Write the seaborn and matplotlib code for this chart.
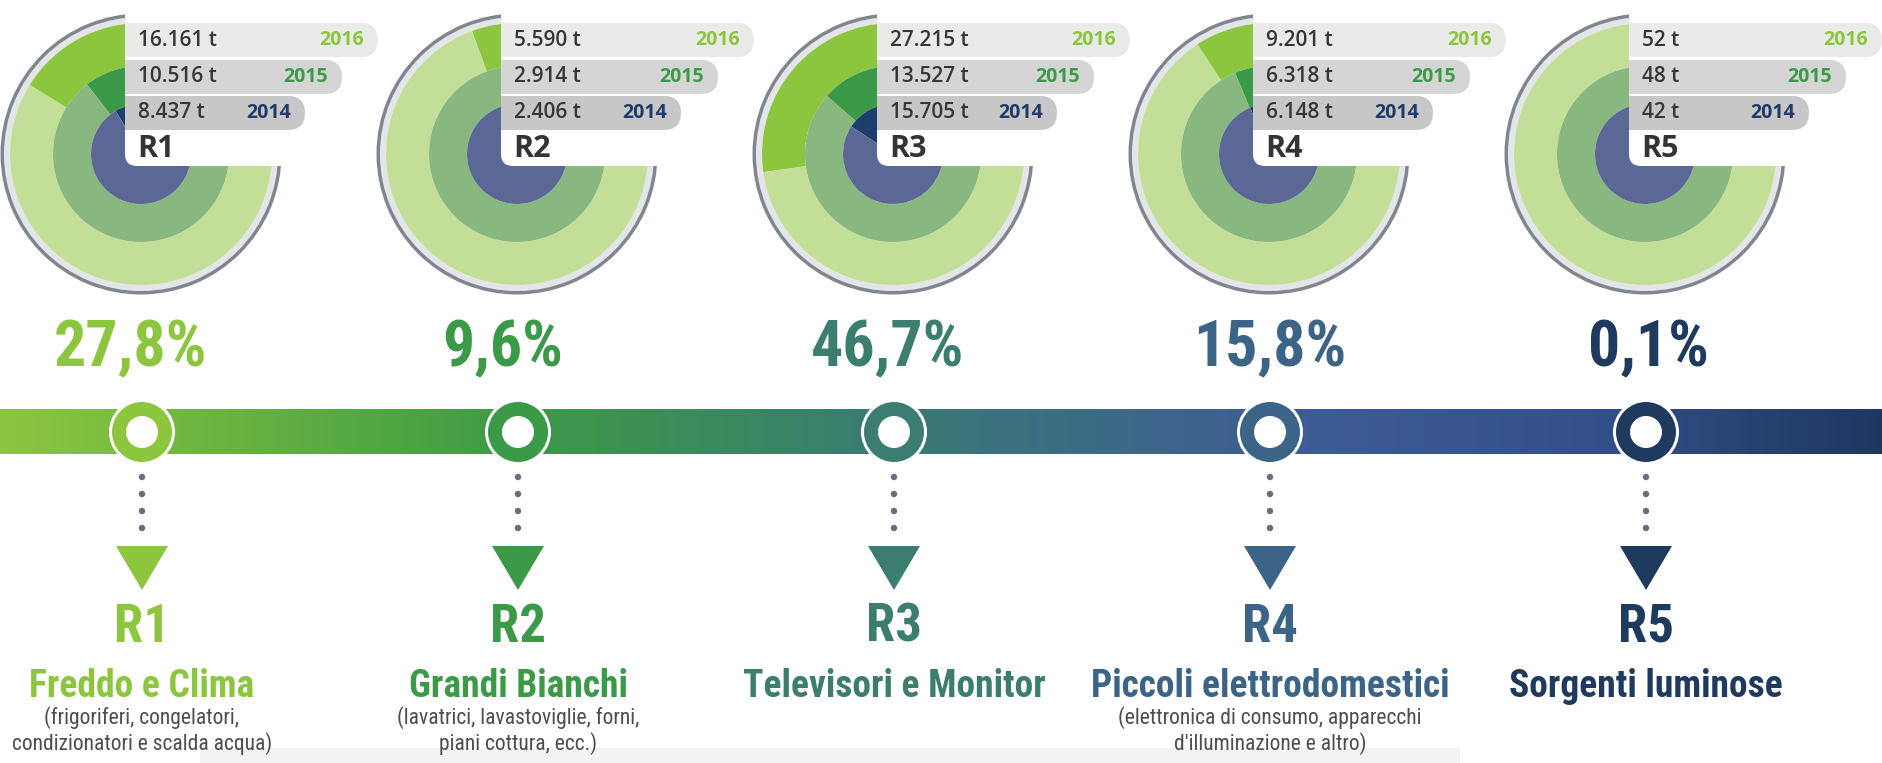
import numpy as np
import matplotlib
matplotlib.use("Agg")
import matplotlib.pyplot as plt
import seaborn as sns
from matplotlib.patches import Circle, Rectangle, Polygon, FancyBboxPatch
from matplotlib.colors import LinearSegmentedColormap

# data (tonnes per year, share of 2016 total)
regions = ["R1", "R2", "R3", "R4", "R5"]
tons_2016 = [16161, 5590, 27215, 9201, 52]
tons_2015 = [10516, 2914, 13527, 6318, 48]
tons_2014 = [8437, 2406, 15705, 6148, 42]
share_2016 = [27.8, 9.6, 46.7, 15.8, 0.1]
years = ["2016", "2015", "2014"]
names = ["Freddo e Clima", "Grandi Bianchi", "Televisori e Monitor",
         "Piccoli elettrodomestici", "Sorgenti luminose"]
notes = [["(frigoriferi, congelatori,", "condizionatori e scalda acqua)"],
         ["(lavatrici, lavastoviglie, forni,", "piani cottura, ecc.)"],
         [],
         ["(elettronica di consumo, apparecchi", "d'illuminazione e altro)"],
         []]
FULL_TURN = 100000  # tonnes that would fill a whole circle

W, H = 1883, 763
sns.set_theme(style="white")
plt.rcParams["font.family"] = ["Open Sans", "DejaVu Sans"]
COND = ["Liberation Sans Narrow", "Roboto Condensed", "Roboto", "DejaVu Sans"]

region_colors = ["#8cc63f", "#3a9a47", "#3b7d6e", "#3b6487", "#1f3a5f"]
bright = ["#8cc63f", "#3a9a47", "#1d3e6c"]
pale = ["#c3df97", "#88b77f", "#5b6794"]
year_colors = ["#8cc63f", "#3a9a47", "#1f3a6a"]
pill_colors = ["#e9ebe9", "#d5d5d5", "#c7c7c7"]
pill_w = [253, 217, 180]
pill_top = [23, 60, 96]
PILL_H = 34
rings = [(88, 131), (50, 88), (0, 50)]
pct_dx = [-12, -15, -6, 0, 2]

def fmt_t(v):
    return f"{v:,}".replace(",", ".") + " t"

fig = plt.figure(figsize=(W / 100, H / 100), dpi=100)
bg = fig.add_axes([0, 0, 1, 1], zorder=0)

xs = 125 + 376 * np.arange(len(regions))   # left edge of each label stack
mx = xs + 17                                # timeline marker positions

# timeline bar with gradient
cmap = LinearSegmentedColormap.from_list(
    "timeline", [(0, "#8cc63f"), (0.27, "#3d9b45"), (0.47, "#3a7b74"),
                 (0.68, "#3f5d95"), (0.85, "#33508a"), (1, "#1f3760")])
bg.imshow(np.linspace(0, 1, 600)[None, :], cmap=cmap, extent=[0, W, 454, 409],
          aspect="auto", zorder=1)
bg.add_patch(Rectangle((200, 748), 1260, 15, fc="#f3f3f3", ec="none", zorder=0))

for i, r in enumerate(regions):
    c = region_colors[i]
    x = mx[i]
    bg.add_patch(Circle((x, 432), 33, fc="white", ec="none", zorder=3))
    bg.add_patch(Circle((x, 432), 30, fc=c, ec="none", zorder=4))
    bg.add_patch(Circle((x, 432), 16, fc="white", ec="none", zorder=5))
    for k in range(4):
        bg.add_patch(Circle((x, 477 + 17 * k), 3.2, fc="#6d6b7e", ec="none", zorder=3))
    bg.add_patch(Polygon([(x - 26, 546), (x + 26, 546), (x, 590)], closed=True,
                         fc=c, ec="none", zorder=3))

    pct = f"{share_2016[i]:.1f}".replace(".", ",") + "%"
    bg.text(x + pct_dx[i], 366, pct, ha="center", va="baseline", fontsize=46,
            fontweight="bold", color=c, family=COND, fontstretch="condensed")
    bg.text(x, 642, r, ha="center", va="baseline", fontsize=38, fontweight="bold",
            color=c, family=COND, fontstretch="condensed")
    bg.text(x, 697, names[i], ha="center", va="baseline", fontsize=27, fontweight="bold",
            color=c, family=COND, fontstretch="condensed")
    for k, line in enumerate(notes[i]):
        bg.text(x, 724 + 26 * k, line, ha="center", va="baseline", fontsize=15.5,
                color="#4d4d4d", family=COND, fontstretch="condensed")

bg.set_xlim(0, W)
bg.set_ylim(H, 0)
bg.axis("off")

# ring charts, one polar axes each
R_AX = 142
for i in range(len(regions)):
    cx, cy = xs[i] + 16, 154
    ax = fig.add_axes([(cx - R_AX) / W, 1 - (cy + R_AX) / H, 2 * R_AX / W, 2 * R_AX / H],
                      projection="polar", zorder=2)
    ax.set_theta_zero_location("N")
    ax.set_theta_direction(1)
    ax.bar(0, 6, width=2 * np.pi, bottom=131, align="edge", color="#e3e5e8", linewidth=0)
    ax.bar(0, 3.5, width=2 * np.pi, bottom=137, align="edge", color="#80868f", linewidth=0)
    for j, vals in enumerate([tons_2016, tons_2015, tons_2014]):
        r0, r1 = rings[j]
        span = 2 * np.pi * vals[i] / FULL_TURN
        ax.bar(0, r1 - r0, width=span, bottom=r0, align="edge", color=bright[j], linewidth=0)
        ax.bar(span, r1 - r0, width=2 * np.pi - span, bottom=r0, align="edge",
               color=pale[j], linewidth=0)
    ax.set_ylim(0, R_AX)
    ax.set_axis_off()

# label stacks drawn over the rings
ov = fig.add_axes([0, 0, 1, 1], zorder=5)
ov.patch.set_alpha(0)
for i, r in enumerate(regions):
    x = xs[i]
    ov.add_patch(FancyBboxPatch((x, -40), 180, 206, boxstyle="round,pad=0,rounding_size=12",
                                fc="white", ec="none"))
    vals = [tons_2016[i], tons_2015[i], tons_2014[i]]
    for j in range(3):
        y0 = pill_top[j]
        ov.add_patch(FancyBboxPatch((x, y0), pill_w[j], PILL_H,
                                    boxstyle=f"round,pad=0,rounding_size={PILL_H / 2}",
                                    fc=pill_colors[j], ec="none"))
        ov.add_patch(Rectangle((x, y0), 20, PILL_H, fc=pill_colors[j], ec="none"))
        yc = y0 + PILL_H / 2
        ov.text(x + 13, yc, fmt_t(vals[j]), ha="left", va="center", fontsize=15,
                fontweight="semibold", color="#363636")
        ov.text(x + pill_w[j] - 14, yc, years[j], ha="right", va="center", fontsize=14,
                fontweight="bold", color=year_colors[j])
    ov.text(x + 12, 149, r, ha="left", va="center", fontsize=22, fontweight="bold",
            color="#333333")
ov.set_xlim(0, W)
ov.set_ylim(H, 0)
ov.axis("off")

fig.savefig("out.png", dpi=100, facecolor="white")
